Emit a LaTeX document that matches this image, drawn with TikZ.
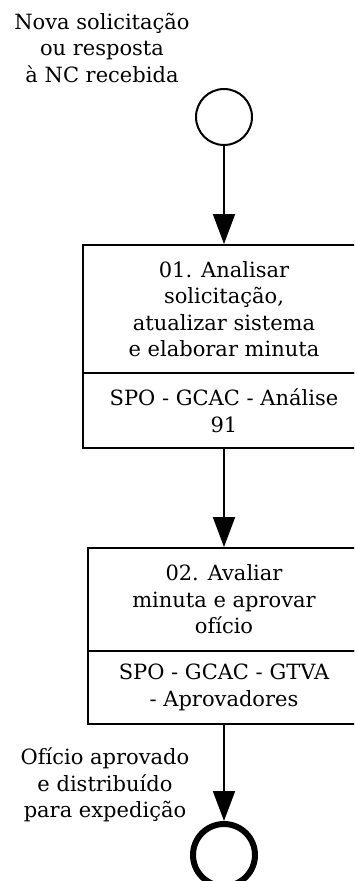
\documentclass[tikz,border=0pt]{standalone}
\usepackage{fontspec}
\setmainfont{DejaVu Serif}
\usetikzlibrary{arrows.meta}
\tikzset{
  txt/.style={font=\fontsize{21}{26.5}\selectfont, align=center, inner sep=0pt},
  boxpart/.style={draw=black, line width=2pt, rectangle, txt, fill=white},
  flow/.style={line width=2pt, -{Triangle[width=22pt,length=30pt]}},
}
\begin{document}
\begin{tikzpicture}[x=1pt,y=-1pt]
\useasboundingbox (0,0) rectangle (354,881);
\clip (0,0) rectangle (354,881);
% start event
\node[txt] (startlbl) at (102,47.5) {Nova solicitação\\ou resposta\\à NC recebida};
\node[circle, draw=black, line width=2pt, minimum size=56pt, inner sep=0pt] (start) at (224,117) {};
% task 1
\node[boxpart, minimum width=282pt, minimum height=128pt] (b1a) at (224,309) {01. Analisar\\solicitação,\\atualizar sistema\\e elaborar minuta};
\node[boxpart, minimum width=282pt, minimum height=75pt] (b1b) at (224,410.5) {SPO - GCAC - Análise\\91};
% task 2
\node[boxpart, minimum width=272pt, minimum height=103pt] (b2a) at (224,599.5) {02. Avaliar\\minuta e aprovar\\ofício};
\node[boxpart, minimum width=272pt, minimum height=73pt] (b2b) at (224,687.5) {SPO - GCAC - GTVA\\- Aprovadores};
% end event
\node[txt] (endlbl) at (105,785) {Ofício aprovado\\e distribuído\\para expedição};
\node[circle, draw=black, line width=6pt, minimum size=62pt, inner sep=0pt] (end) at (224,855) {};
% flows
\draw[flow] (start.south) -- (b1a.north);
\draw[flow] (b1b.south) -- (b2a.north);
\draw[flow] (b2b.south) -- (end.north);
\end{tikzpicture}
\end{document}
